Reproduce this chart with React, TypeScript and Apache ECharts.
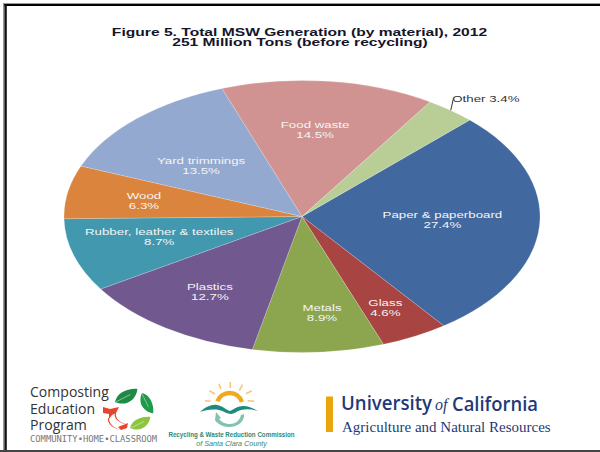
import React, { useEffect, useRef } from "react";
import * as echarts from "echarts";

const materials = ["Paper & paperboard", "Glass", "Metals", "Plastics", "Rubber, leather & textiles", "Wood", "Yard trimmings", "Food waste", "Other"];
const percents = [27.4, 4.6, 8.9, 12.7, 8.7, 6.3, 13.5, 14.5, 3.4];
const sliceColors = ["#41699f", "#a84442", "#8ba64f", "#71588f", "#4298af", "#db843d", "#93a9cf", "#d19392", "#b9cd96"];
const titleLines = ["Figure 5. Total MSW Generation (by material), 2012", "251 Million Tons (before recycling)"];

// Label centres as fractions of the ellipse radii.
const labelPlacement = [[0.59, 0.02], [0.35, 0.67], [0.084, 0.706], [-0.387, 0.55], [-0.6, 0.147], [-0.664, -0.118], [-0.424, -0.375], [0.055, -0.64]];

const CX = 302, CY = 216.5, RX = 238, RY = 136, START_DEG = 44.8;
const SQUISH = RX / RY;
const FONT = '"Liberation Sans", Arial, sans-serif';
const TEXT_SCALE = 1.4;
const LABEL_FONT = `9.5px ${FONT}`;

const d2r = Math.PI / 180;
const total = percents.reduce((a, b) => a + b, 0);
const cumulative = percents.map((_, i) => percents.slice(0, i).reduce((a, b) => a + b, 0));
const topAngle = (share: number) => START_DEG + (share / total) * 360;

const LeafD = "M0 0 C3 -9 14 -13 25 -11 C23 -1 12 7 0 0 Z";
const CoreD =
  "M0 1 L7 3 L16 1 L13 7 L9 9 L6 13 L6 8 L0 7 Z " +
  "M6 12 C6 18 11 22 18 24 C12 23 4 19 5 12 Z " +
  "M13 7 C12 13 17 17 25 18 C17 18 10 13 12 7 Z " +
  "M15 21 L25 17 L24 22 L18 24 Z";
const WaveD = "M0 11 C5 6 12 3 17 4 C23 5 26 9 30 10 C34 8 38 5 43 5 C49 5 54 8 58 10 C52 8 46 8 41 9 C37 10 34 13 31 13 C27 13 24 10 19 9 C12 8 5 9 0 11 Z";
const SwooshD = "M2 0 L7 6 L5 7 C7 10 12 12 16 12 C22 12 26 8 27 3 L30 2 C31 9 24 15 15 15 C7 15 2 10 1 8 Z";
echarts.graphic.registerShape("leafShape", echarts.graphic.extendPath(LeafD, {}));
echarts.graphic.registerShape("coreShape", echarts.graphic.extendPath(CoreD, {}));
echarts.graphic.registerShape("waveShape", echarts.graphic.extendPath(WaveD, {}));
echarts.graphic.registerShape("swooshShape", echarts.graphic.extendPath(SwooshD, {}));

const txt = (text: string, x: number, y: number, font: string, fill: string, align = "left", scaleX = 1) => ({
  type: "text", x, y, scaleX, silent: true,
  style: { text, font, fill, align, textAlign: align, verticalAlign: "middle", textVerticalAlign: "middle" },
});
const rect = (x: number, y: number, width: number, height: number, fill: string) => ({ type: "rect", shape: { x, y, width, height }, style: { fill }, silent: true });
const ray = (x1: number, y1: number, x2: number, y2: number) => ({ type: "line", shape: { x1, y1, x2, y2 }, style: { stroke: "#f6c77a", lineWidth: 1.6 }, silent: true });
const leaf = (x: number, y: number, rotation: number, fill: string, scale = 1) => ({
  type: "group", x, y, rotation, scaleX: scale, scaleY: scale, silent: true,
  children: [
    { type: "leafShape", style: { fill }, silent: true },
    { type: "line", shape: { x1: 1, y1: 0, x2: 17, y2: -6 }, style: { stroke: "#ffffff", lineWidth: 0.6, opacity: 0.8 }, silent: true },
  ],
});

const graphicElements: any[] = [
  rect(3, 3, 597, 1, "#999"), rect(3, 4, 597, 2, "#000"),
  rect(3, 3, 1.4, 449, "#999"), rect(4.4, 4, 2.4, 448, "#111"),
  rect(0, 450, 600, 2, "#444"),
  txt(titleLines[0], 299.5, 32, `bold 11px ${FONT}`, "#15152a", "center", 1.42),
  txt(titleLines[1], 300, 42.5, `bold 11px ${FONT}`, "#15152a", "center", 1.42),
  // Composting Education Program
  txt("Composting", 30, 391, '14.5px "Open Sans"', "#333", "left", 0.97),
  txt("Education", 30, 408, '14.5px "Open Sans"', "#333", "left", 0.97),
  txt("Program", 30, 424.5, '14.5px "Open Sans"', "#333", "left", 0.97),
  txt("COMMUNITY\u2022HOME\u2022CLASSROOM", 30, 439, '8.8px "DejaVu Sans Mono"', "#777"),
  leaf(115, 402, 0.115, "#1f8a45", 0.95),
  leaf(142, 393, -1.48, "#1f9a4a", 0.85),
  leaf(130, 428, 0.09, "#8cc63f", 0.85),
  { type: "coreShape", x: 103, y: 406, style: { fill: "#e8452c" }, silent: true },
  // Recycling & Waste Reduction Commission
  { type: "arc", shape: { cx: 229.5, cy: 406, r: 13, startAngle: Math.PI * 1.12, endAngle: Math.PI * 1.9, clockwise: true }, style: { stroke: "#f0a81e", lineWidth: 4.5, fill: "none" }, silent: true },
  ray(205, 400.7, 210.7, 401.3), ray(209.3, 390.7, 215, 394), ray(219, 383.7, 221, 389), ray(230.3, 382, 230.3, 388),
  ray(242.7, 384.7, 239.3, 390.7), ray(251.7, 390.7, 246, 393.7), ray(247.7, 400.7, 254.3, 401.3),
  { type: "waveShape", x: 200, y: 401, style: { fill: "#1d8a7d" }, silent: true },
  { type: "swooshShape", x: 214, y: 412, style: { fill: "#83c1b2" }, silent: true },
  txt("Recycling & Waste Reduction Commission", 231.5, 434.5, `bold 7.3px ${FONT}`, "#2a8a77", "center", 0.85),
  txt("of Santa Clara County", 231.5, 443.5, `italic 7.2px ${FONT}`, "#2a8a77", "center", 1),
  // University of California
  rect(326, 396.5, 7, 35.5, "#eaa40e"),
  txt("University", 341, 403, '600 19px "Open Sans"', "#1f3a78", "left", 0.98),
  txt("of", 435, 404, 'italic 16px "Liberation Serif"', "#1f3a78"),
  txt("California", 452, 403, '600 19px "Open Sans"', "#1f3a78", "left", 0.97),
  txt("Agriculture and Natural Resources", 342, 427, '15px "Liberation Serif"', "#1f3a78"),
];

export default function App() {
  const ref = useRef<HTMLDivElement>(null);
  useEffect(() => {
    document.body.style.margin = "0";
    const chart = echarts.init(ref.current!, undefined, { renderer: "svg" });
    chart.setOption({
      animation: false,
      backgroundColor: "#fff",
      graphic: { elements: graphicElements },
      series: [
        {
          type: "custom",
          coordinateSystem: "none",
          clip: false,
          data: percents.map((v, i) => ({ name: materials[i], value: [v] })),
          renderItem: (params: any) => {
            const i = params.dataIndex;
            const a0 = topAngle(cumulative[i]);
            const a1 = topAngle(cumulative[i] + percents[i]);
            return {
              type: "sector",
              x: CX, y: CY, scaleX: SQUISH, scaleY: 1,
              shape: { cx: 0, cy: 0, r0: 0, r: RY, startAngle: (a0 - 90) * d2r, endAngle: (a1 - 90) * d2r, clockwise: true },
              style: { fill: sliceColors[i], stroke: "rgba(255,255,255,0.35)", lineWidth: 0.4 },
            };
          },
        },
        {
          type: "custom",
          coordinateSystem: "none",
          clip: false,
          silent: true,
          data: percents.map((v, i) => ({ name: materials[i], value: [v] })),
          renderItem: (params: any) => {
            const i = params.dataIndex;
            const line2 = `${percents[i].toFixed(1)}%`;
            const p = labelPlacement[i];
            if (!p) {
              const mid = (topAngle(cumulative[i]) + percents[i] * 1.8) * d2r;
              const ex = CX + RX * Math.sin(mid), ey = CY - RY * Math.cos(mid);
              return {
                type: "group",
                children: [
                  { type: "line", shape: { x1: ex, y1: ey, x2: ex + 2.5, y2: ey - 11 }, style: { stroke: "#333", lineWidth: 1 } },
                  txt(`${materials[i]} ${line2}`, ex + 1.5, ey - 11.5, LABEL_FONT, "#333", "left", TEXT_SCALE),
                ],
              };
            }
            const x = CX + p[0] * RX, y = CY + p[1] * RY;
            return {
              type: "group",
              children: [
                txt(materials[i], x, y - 5, LABEL_FONT, "#f4f4f4", "center", TEXT_SCALE),
                txt(line2, x, y + 5.5, LABEL_FONT, "#f4f4f4", "center", TEXT_SCALE),
              ],
            };
          },
        },
      ],
    });
    return () => chart.dispose();
  }, []);
  return <div ref={ref} style={{ width: 600, height: 452 }} />;
}
